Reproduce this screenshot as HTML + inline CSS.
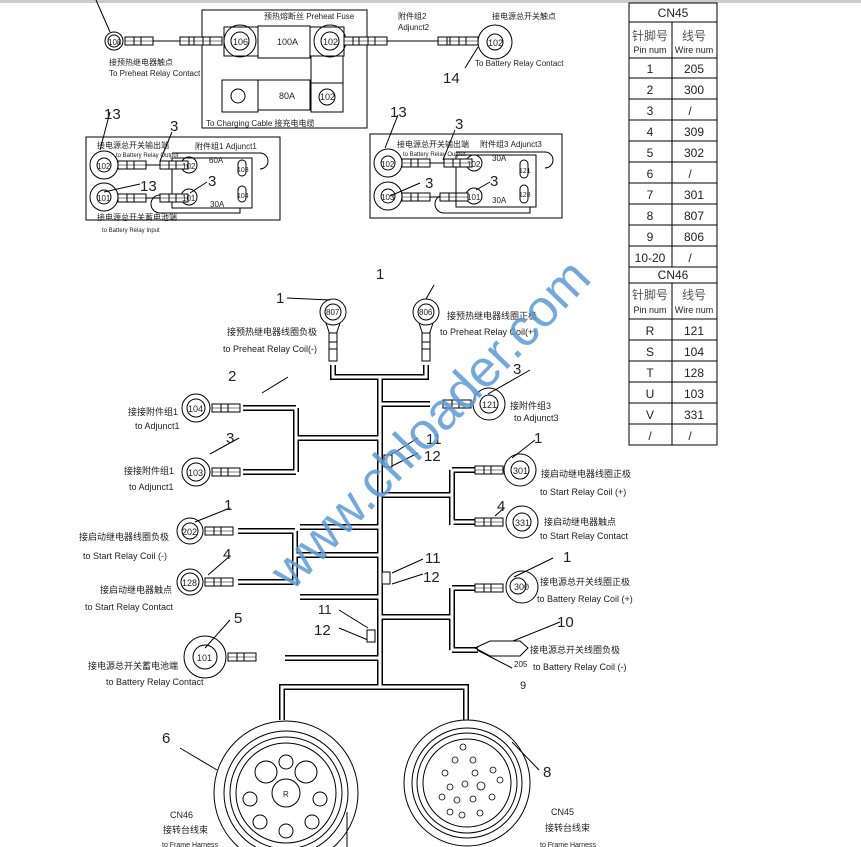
<!DOCTYPE html>
<html><head><meta charset="utf-8"><style>
body{margin:0;background:#fff;width:861px;height:847px;overflow:hidden}
svg{display:block}
text{font-family:"Liberation Sans","Noto Sans CJK SC",sans-serif;fill:#222}
.s{font-size:9px}.m{font-size:11px}.n{font-size:15px}
</style></head><body>
<svg width="861" height="847" viewBox="0 0 861 847" xmlns="http://www.w3.org/2000/svg">
<defs>
<g id="crimp"><rect x="0" y="-4" width="28" height="8" fill="#fff" stroke="#000"/><line x1="9" y1="-4" x2="9" y2="4" stroke="#000"/><line x1="16" y1="-4" x2="16" y2="4" stroke="#000"/><line x1="0" y1="0" x2="28" y2="0" stroke="#000" stroke-width=".6"/></g>
<g id="crimpv"><rect x="-4" y="0" width="8" height="28" fill="#fff" stroke="#000"/><line x1="-4" y1="9" x2="4" y2="9" stroke="#000"/><line x1="-4" y1="16" x2="4" y2="16" stroke="#000"/></g>
<path id="h" d="M333 365 V377 H426 V365 M380 377 V688 M380 404 H430 M380 438 H296 M296 408 V472 M296 408 H243 M296 472 H243 M380 495 H452 M452 470 V525 M452 470 H475 M452 522 H475 M380 555 H295 M295 531 V585 M295 531 H238 M295 582 H238 M380 617 H452 M452 588 V650 M452 588 H475 M452 650 H478 M380 658 H285 M282 720 V687 H466 V720 M380 527 H300 M380 597 H300"/>
</defs>
<rect x="0" y="0" width="861" height="3" fill="#ccc"/>
<g fill="none" stroke="#000" stroke-width="1">
<line x1="96" y1="0" x2="110" y2="32"/>
<circle cx="114" cy="41" r="9"/><circle cx="114" cy="41" r="6"/>
<line x1="145" y1="41" x2="180" y2="41"/>
<rect x="202" y="10" width="165" height="118"/>
<circle cx="240" cy="41" r="16"/><circle cx="240" cy="41" r="9"/>
<rect x="224" y="27" width="120" height="29"/>
<rect x="258" y="26" width="52" height="32" fill="#fff"/>
<circle cx="330" cy="41" r="16"/><circle cx="330" cy="41" r="9"/>
<line x1="311" y1="56" x2="311" y2="83"/><line x1="343" y1="56" x2="343" y2="83"/>
<rect x="222" y="80" width="36" height="32"/><circle cx="238" cy="96" r="7"/>
<rect x="258" y="80" width="52" height="30"/>
<rect x="311" y="83" width="32" height="29"/><circle cx="327" cy="97" r="8"/>
<line x1="387" y1="41" x2="438" y2="41"/>
<circle cx="495" cy="42" r="17"/><circle cx="495" cy="42" r="8"/>
<line x1="465" y1="68" x2="478" y2="47"/>
<rect x="86" y="137" width="194" height="83"/>
<circle cx="104" cy="165" r="14"/><circle cx="104" cy="165" r="7"/>
<circle cx="104" cy="197" r="14"/><circle cx="104" cy="197" r="7"/>
<line x1="140" y1="165" x2="160" y2="165"/><line x1="140" y1="198" x2="160" y2="198"/>
<rect x="172" y="158" width="80" height="50"/>
<path d="M172 153 H260 A8 8 0 0 1 260 169 M240 208 V213 H160 A8 8 0 0 1 160 195 H176"/>
<circle cx="189" cy="165" r="8"/><circle cx="189" cy="197" r="8"/>
<rect x="238" y="160" width="8" height="16" rx="4"/><rect x="238" y="186" width="8" height="16" rx="4"/>
<line x1="100" y1="150" x2="110" y2="112"/><line x1="104" y1="192" x2="140" y2="184"/><line x1="160" y1="161" x2="172" y2="132"/><line x1="190" y1="193" x2="207" y2="182"/>
<rect x="370" y="134" width="192" height="84"/>
<circle cx="388" cy="163" r="14"/><circle cx="388" cy="163" r="7"/>
<circle cx="388" cy="196" r="14"/><circle cx="388" cy="196" r="7"/>
<line x1="423" y1="163" x2="444" y2="163"/><line x1="423" y1="197" x2="444" y2="197"/>
<rect x="456" y="155" width="80" height="52"/>
<path d="M456 152 H545 A8 8 0 0 1 545 168 M530 207 V213 H444 A8 8 0 0 1 444 195 H455"/>
<circle cx="474" cy="163" r="8"/><circle cx="474" cy="196" r="8"/>
<rect x="520" y="160" width="8" height="18" rx="4"/><rect x="520" y="185" width="8" height="18" rx="4"/>
<line x1="385" y1="148" x2="398" y2="115"/><line x1="390" y1="196" x2="420" y2="183"/><line x1="443" y1="160" x2="455" y2="130"/><line x1="476" y1="190" x2="490" y2="182"/>
</g>
<use href="#crimp" x="125" y="41"/><use href="#crimp" x="180" y="41"/><use href="#crimp" x="194" y="41"/>
<use href="#crimp" x="344" y="41"/><use href="#crimp" x="359" y="41"/><use href="#crimp" x="438" y="41"/><use href="#crimp" x="450" y="41"/>
<use href="#crimp" x="118" y="165"/><use href="#crimp" x="118" y="198"/><use href="#crimp" x="160" y="165"/><use href="#crimp" x="160" y="198"/>
<use href="#crimp" x="402" y="163"/><use href="#crimp" x="402" y="197"/><use href="#crimp" x="444" y="163"/><use href="#crimp" x="440" y="197"/>
<g class="s">
<text x="108" y="45" font-size="8">108</text><text x="233" y="45">106</text><text x="323" y="45">102</text><text x="277" y="45">100A</text>
<text x="279" y="99">80A</text><text x="320" y="100">102</text><text x="488" y="46">102</text>
<text x="264" y="19" font-size="8">预热熔断丝   Preheat  Fuse</text>
<text x="398" y="19" font-size="8">附件组2</text><text x="398" y="30" font-size="8">Adjunct2</text>
<text x="492" y="19" font-size="8">接电源总开关触点</text>
<text x="475" y="66" font-size="8">To Battery  Relay  Contact</text>
<text x="109" y="65" font-size="8">接预热继电器触点</text><text x="109" y="76" font-size="8">To Preheat  Relay  Contact</text>
<text x="206" y="126" font-size="8">To Charging  Cable  接充电电缆</text>
<text x="97" y="148" font-size="8">接电源总开关输出端</text><text x="116" y="157" font-size="6">to Battery Relay Output</text>
<text x="195" y="149" font-size="8">附件组1  Adjunct1</text>
<text x="209" y="163" font-size="8">60A</text><text x="210" y="207" font-size="8">30A</text>
<text x="97" y="169" font-size="8">102</text><text x="97" y="201" font-size="8">101</text><text x="182" y="169" font-size="8">102</text><text x="182" y="201" font-size="8">101</text>
<text x="237" y="172" font-size="7">103</text><text x="237" y="198" font-size="7">104</text>
<text x="97" y="220" font-size="8">接电源总开关蓄电池端</text><text x="102" y="232" font-size="6">to Battery Relay Input</text>
<text x="397" y="147" font-size="8">接电源总开关输出端</text><text x="403" y="156" font-size="6">to Battery Relay Output</text>
<text x="480" y="147" font-size="8">附件组3  Adjunct3</text>
<text x="492" y="161" font-size="8">30A</text><text x="492" y="203" font-size="8">30A</text>
<text x="381" y="167" font-size="8">102</text><text x="381" y="200" font-size="8">103</text><text x="467" y="167" font-size="8">102</text><text x="467" y="200" font-size="8">101</text>
<text x="519" y="173" font-size="7">121</text><text x="519" y="197" font-size="7">128</text>
</g>
<g class="n"><text x="443" y="83">14</text><text x="104" y="119">13</text><text x="140" y="191">13</text><text x="170" y="131">3</text><text x="208" y="186">3</text>
<text x="390" y="117">13</text><text x="425" y="188">3</text><text x="455" y="129">3</text><text x="490" y="186">3</text></g>

<g fill="none" stroke-linejoin="miter">
<use href="#h" stroke="#000" stroke-width="6"/>
<use href="#h" stroke="#fff" stroke-width="3"/>
</g>
<g fill="none" stroke="#000">
<circle cx="333" cy="312" r="13"/><circle cx="333" cy="312" r="8"/><path d="M326 323 L330 335 M340 323 L336 335"/>
<circle cx="426" cy="312" r="13"/><circle cx="426" cy="312" r="8"/><path d="M419 323 L423 335 M433 323 L429 335"/>
<circle cx="489" cy="404" r="16"/><circle cx="489" cy="404" r="9"/>
<circle cx="196" cy="408" r="14"/><circle cx="196" cy="408" r="9"/>
<circle cx="196" cy="472" r="14"/><circle cx="196" cy="472" r="9"/>
<circle cx="520" cy="470" r="16"/><circle cx="520" cy="470" r="9"/>
<circle cx="522" cy="522" r="16"/><circle cx="522" cy="522" r="9"/>
<circle cx="190" cy="531" r="13"/><circle cx="190" cy="531" r="8"/>
<circle cx="190" cy="582" r="13"/><circle cx="190" cy="582" r="9"/>
<circle cx="522" cy="587" r="16"/><circle cx="518" cy="586" r="8"/>
<circle cx="205" cy="657" r="21"/><circle cx="205" cy="657" r="12"/>
<path d="M475 648 L490 641 H520 L528 648 L520 656 H490 Z"/>
<path d="M287 298 L330 300 M434 285 L426 299 M288 377 L262 393 M239 438 L210 454 M230 508 L195 522 M230 556 L208 575 M230 620 L205 648 M530 370 L488 394 M535 440 L512 458 M504 508 L495 516 M553 558 L514 577 M560 622 L513 641 M512 668 L477 650 M418 438 L392 454 M418 453 L392 466 M423 559 L392 573 M423 574 L392 584 M339 610 L368 628 M339 628 L368 640"/>
<rect x="384" y="455" width="8" height="12" fill="#fff"/><rect x="382" y="572" width="8" height="12" fill="#fff"/><rect x="367" y="630" width="8" height="12" fill="#fff"/>
<circle cx="286" cy="793" r="72"/><circle cx="286" cy="793" r="62"/><circle cx="286" cy="793" r="56"/><circle cx="286" cy="793" r="50"/>
<circle cx="286" cy="793" r="14"/>
<circle cx="286" cy="762" r="7"/><circle cx="266" cy="772" r="11"/><circle cx="306" cy="772" r="11"/><circle cx="250" cy="799" r="7"/><circle cx="320" cy="799" r="7"/><circle cx="260" cy="822" r="7"/><circle cx="312" cy="822" r="7"/><circle cx="286" cy="831" r="7"/>
<line x1="347" y1="812" x2="347" y2="847"/>
<line x1="180" y1="748" x2="217" y2="770"/>
<circle cx="467" cy="783" r="63"/><circle cx="467" cy="783" r="55"/><circle cx="467" cy="783" r="50"/><circle cx="467" cy="783" r="44"/>
<g stroke-width=".8"><circle cx="455" cy="760" r="3"/><circle cx="473" cy="760" r="3"/><circle cx="445" cy="773" r="3"/><circle cx="475" cy="773" r="3"/><circle cx="493" cy="770" r="3"/><circle cx="450" cy="787" r="3"/><circle cx="465" cy="784" r="3"/><circle cx="481" cy="786" r="4"/><circle cx="500" cy="780" r="3"/><circle cx="457" cy="800" r="3"/><circle cx="473" cy="799" r="3"/><circle cx="492" cy="797" r="3"/><circle cx="450" cy="812" r="3"/><circle cx="462" cy="815" r="3"/><circle cx="480" cy="813" r="3"/><circle cx="442" cy="797" r="3"/><circle cx="463" cy="747" r="3"/></g>
<line x1="512" y1="742" x2="539" y2="770"/>
</g>
<use href="#crimpv" x="333" y="333"/><use href="#crimpv" x="426" y="333"/>
<use href="#crimp" x="443" y="404"/><use href="#crimp" x="212" y="408"/><use href="#crimp" x="212" y="472"/>
<use href="#crimp" x="475" y="470"/><use href="#crimp" x="475" y="522"/><use href="#crimp" x="205" y="531"/><use href="#crimp" x="205" y="582"/>
<use href="#crimp" x="475" y="588"/><use href="#crimp" x="228" y="657"/>
<g class="s" font-size="9">
<text x="326" y="315" font-size="8">807</text><text x="419" y="315" font-size="8">806</text><text x="482" y="408">121</text>
<text x="188" y="412">104</text><text x="188" y="476">103</text><text x="513" y="474">301</text><text x="515" y="526">331</text>
<text x="182" y="535">202</text><text x="182" y="586">128</text><text x="514" y="590">300</text><text x="197" y="661">101</text>
<text x="227" y="335">接预热继电器线圈负极</text><text x="223" y="352">to Preheat  Relay  Coil(-)</text>
<text x="447" y="319">接预热继电器线圈正极</text><text x="440" y="335">to Preheat  Relay  Coil(+)</text>
<text x="510" y="409">接附件组3</text><text x="514" y="421">to Adjunct3</text>
<text x="128" y="415">接接附件组1</text><text x="135" y="429">to Adjunct1</text>
<text x="124" y="474">接接附件组1</text><text x="129" y="490">to Adjunct1</text>
<text x="541" y="477">接启动继电器线圈正极</text><text x="540" y="495">to Start  Relay  Coil  (+)</text>
<text x="544" y="525">接启动继电器触点</text><text x="540" y="539">to Start  Relay  Contact</text>
<text x="79" y="540">接启动继电器线圈负极</text><text x="83" y="559">to Start Relay Coil (-)</text>
<text x="100" y="593">接启动继电器触点</text><text x="85" y="610">to Start  Relay  Contact</text>
<text x="540" y="585">接电源总开关线圈正极</text><text x="537" y="602">to Battery  Relay  Coil  (+)</text>
<text x="530" y="653">接电源总开关线圈负极</text><text x="533" y="670">to Battery  Relay  Coil  (-)</text>
<text x="88" y="669">接电源总开关蓄电池端</text><text x="106" y="685">to Battery Relay Contact</text>
<text x="514" y="667" font-size="8">205</text>
<text x="170" y="818">CN46</text><text x="163" y="833">接转台线束</text><text x="162" y="847" font-size="7">to Frame Harness</text>
<text x="551" y="815">CN45</text><text x="545" y="831">接转台线束</text><text x="540" y="847" font-size="7">to Frame Harness</text>
<text x="283" y="797" font-size="8">R</text>
</g>
<g class="n">
<text x="376" y="279">1</text><text x="276" y="303">1</text><text x="228" y="381">2</text><text x="226" y="443">3</text><text x="224" y="510">1</text><text x="223" y="559">4</text><text x="234" y="623">5</text>
<text x="513" y="374">3</text><text x="534" y="443">1</text><text x="497" y="511">4</text><text x="563" y="562">1</text><text x="557" y="627">10</text><text x="520" y="689" font-size="11">9</text>
<text x="426" y="444">11</text><text x="424" y="461">12</text><text x="425" y="563">11</text><text x="423" y="582">12</text><text x="318" y="614" font-size="13">11</text><text x="314" y="635">12</text>
<text x="162" y="743">6</text><text x="543" y="777">8</text>
</g>
<text x="0" y="0" transform="translate(292,592) rotate(-46)" font-size="52" style="fill:#5b9bd5;opacity:.85">www.chloader.com</text>
<g stroke="#000" fill="none">
<rect x="629" y="3" width="88" height="442"/>
<line x1="672" y1="22" x2="672" y2="267"/><line x1="672" y1="283" x2="672" y2="445"/>
<path d="M629 22H717M629 58H717M629 78H717M629 99H717M629 120H717M629 141H717M629 162H717M629 183H717M629 204H717M629 225H717M629 246H717M629 267H717M629 283H717M629 319H717M629 340H717M629 361H717M629 382H717M629 403H717M629 424H717"/>
</g>
<g font-size="12" text-anchor="middle">
<text x="673" y="17">CN45</text><text x="650" y="40" style="fill:#555">针脚号</text><text x="694" y="40" style="fill:#555">线号</text>
<text x="650" y="53" font-size="9">Pin num</text><text x="694" y="53" font-size="9">Wire num</text>
<text x="650" y="73">1</text><text x="694" y="73">205</text><text x="650" y="94">2</text><text x="694" y="94">300</text>
<text x="650" y="115">3</text><text x="690" y="115">/</text><text x="650" y="136">4</text><text x="694" y="136">309</text>
<text x="650" y="157">5</text><text x="694" y="157">302</text><text x="650" y="178">6</text><text x="690" y="178">/</text>
<text x="650" y="199">7</text><text x="694" y="199">301</text><text x="650" y="220">8</text><text x="694" y="220">807</text>
<text x="650" y="241">9</text><text x="694" y="241">806</text><text x="650" y="262">10-20</text><text x="690" y="262">/</text>
<text x="673" y="279">CN46</text><text x="650" y="299" style="fill:#555">针脚号</text><text x="694" y="299" style="fill:#555">线号</text>
<text x="650" y="313" font-size="9">Pin num</text><text x="694" y="313" font-size="9">Wire num</text>
<text x="650" y="335">R</text><text x="694" y="335">121</text><text x="650" y="356">S</text><text x="694" y="356">104</text>
<text x="650" y="377">T</text><text x="694" y="377">128</text><text x="650" y="398">U</text><text x="694" y="398">103</text>
<text x="650" y="419">V</text><text x="694" y="419">331</text><text x="650" y="440">/</text><text x="690" y="440">/</text>
</g>
</svg>
</body></html>
